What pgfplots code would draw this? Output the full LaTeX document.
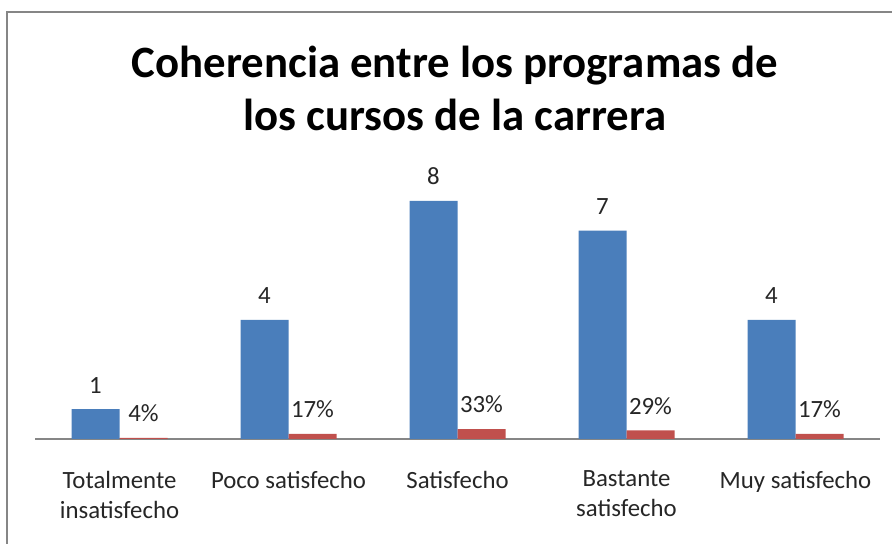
\documentclass[border=0pt]{standalone}
\usepackage{pgfplots}
\pgfplotsset{compat=1.18}
\usepackage{fontspec}
\setmainfont{Carlito}
\definecolor{cblue}{RGB}{74,126,187}
\definecolor{cred}{RGB}{192,80,77}
\definecolor{frame}{RGB}{134,134,134}
\begin{document}
\begin{tikzpicture}
\path[use as bounding box] (0,0) rectangle (446pt,272pt);
\draw[frame, line width=0.8pt] (3.5pt,-2pt) -- (3.5pt,266pt) -- (448pt,266pt);
\node[align=center, font=\bfseries\fontsize{22.4}{26.5}\selectfont] at (227.5pt,228pt)
  {Coherencia entre los programas de\\los cursos de la carrera};
\begin{axis}[
  at={(17.5pt,52.5pt)}, anchor=south west,
  scale only axis, width=422.5pt, height=133.9pt,
  xmin=-0.5, xmax=4.5, ymin=0, ymax=9,
  axis x line*=bottom, axis y line=none,
  x axis line style={draw=frame, line width=0.6pt, -},
  xtick={0,1,2,3,4},
  xticklabels={{Totalmente\\insatisfecho},{Poco satisfecho},{Satisfecho},{Bastante\\satisfecho},{Muy satisfecho}},
  xticklabel style={align=center, font=\fontsize{12.4}{15}\selectfont, yshift=-12.5pt, text=black!85},
  major tick length=0pt,
  ybar, bar width=24pt,
  nodes near coords,
  nodes near coords style={font=\fontsize{12.4}{14}\selectfont, text=black!85, yshift=4.5pt},
  point meta=explicit symbolic,
  clip=false,
]
\addplot[fill=cblue, draw=none, bar shift=-12pt] coordinates {
  (0,1) [1] (1,4) [4] (2,8) [8] (3,7) [7] (4,4) [4]};
\addplot[fill=cred, draw=none, bar shift=12pt] coordinates {
  (0,0.04) [4\%] (1,0.17) [17\%] (2,0.33) [33\%] (3,0.29) [29\%] (4,0.17) [17\%]};
\end{axis}
\end{tikzpicture}
\end{document}
